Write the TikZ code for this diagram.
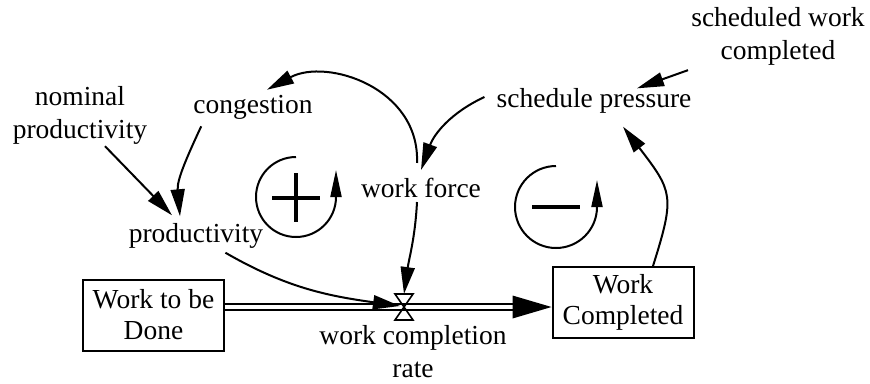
\documentclass[tikz,border=0pt]{standalone}
\usepackage{fontspec}
\setmainfont{Liberation Serif}
\newfontfamily\tnr{Liberation Serif}
\usetikzlibrary{arrows.meta}
\begin{document}
\begin{tikzpicture}[x=1pt,y=1pt,
  txt/.style={font=\tnr\fontsize{27.5}{33}\selectfont, align=center, inner sep=2pt},
  stock/.style={draw, line width=2pt, minimum width=141pt, minimum height=71pt, inner sep=0pt,
    font=\tnr\fontsize{27.5}{31}\selectfont, align=center},
  link/.style={line width=2pt, -{Triangle[length=27pt,width=14pt]}},
  loopc/.style={line width=2pt, -{Triangle[length=27pt,width=11pt]}},
  sign/.style={line width=3.4pt},
  pipe/.style={double, double distance=4pt, line width=1.8pt},
  valve/.style={line width=1.6pt}
]
\useasboundingbox (0,0) rectangle (870,-383);
% nodes
\node[txt] (swc) at (778,-36) {scheduled work\\completed};
\node[txt] (sp) at (594,-101) {schedule pressure};
\node[txt] (np) at (80,-115) {nominal\\productivity};
\node[txt] (cong) at (253,-107) {congestion};
\node[txt] (wf) at (421,-188) {work force};
\node[txt] (prod) at (196,-236) {productivity};
\node[stock] (wtbd) at (153.5,-315) {Work to be\\Done};
\node[stock] (wc) at (623,-302.5) {Work\\Completed};
\node[txt] (wcr) at (413,-352) {work completion\\rate};
\coordinate (v) at (404,-307);
% pipe and valve
\draw[pipe] (wtbd.east |- v) -- ([xshift=-36pt]wc.west |- v);
\fill (wc.west |- v) -- ++(-39,11.5) -- ++(0,-23) -- cycle;
\draw[valve] ([shift={(-9,13)}]v) -- ([shift={(9,13)}]v) -- (v) -- cycle;
\draw[valve] ([shift={(-9,-13)}]v) -- ([shift={(9,-13)}]v) -- (v) -- cycle;
% links
\draw[link] ([xshift=25pt]np.south) -- ([xshift=-24pt,yshift=6pt]prod.north);
\draw[link] ([xshift=10pt,yshift=-5pt]cong.south west) to[out=-115,in=95] ([xshift=-16pt,yshift=5pt]prod.north);
\draw[link] ([xshift=-4pt,yshift=13pt]wf.north) .. controls +(3,75) and +(60,32) .. ([xshift=14pt,yshift=3pt]cong.north);
\draw[link] ([xshift=-10pt,yshift=4pt]sp.west) to[out=205,in=70] ([yshift=6pt]wf.north);
\draw[link] ([xshift=-90pt,yshift=-3pt]swc.south) -- ([xshift=43pt,yshift=-2pt]sp.north);
\draw[link] ([xshift=30pt]wc.north) .. controls +(22,70) and +(50,-65) .. ([xshift=29pt,yshift=-11pt]sp.south);
\draw[link] ([xshift=-4pt,yshift=-2pt]wf.south) to[out=-93,in=82] ([yshift=13pt]v);
\draw[link] ([xshift=-40pt,yshift=-2pt]prod.south east) to[out=-30,in=172] ([xshift=-4pt,yshift=1pt]v);
% loop symbols
\draw[loopc] (296,-157) arc[start angle=90,end angle=360,radius=40] -- ++(0,27);
\draw[sign] (272,-198) -- (320,-198);
\draw[sign] (296,-173) -- (296,-222);
\draw[loopc] (556,-166) arc[start angle=90,end angle=360,radius=41] -- ++(0,27);
\draw[sign] (532,-207) -- (580,-207);
\end{tikzpicture}
\end{document}
